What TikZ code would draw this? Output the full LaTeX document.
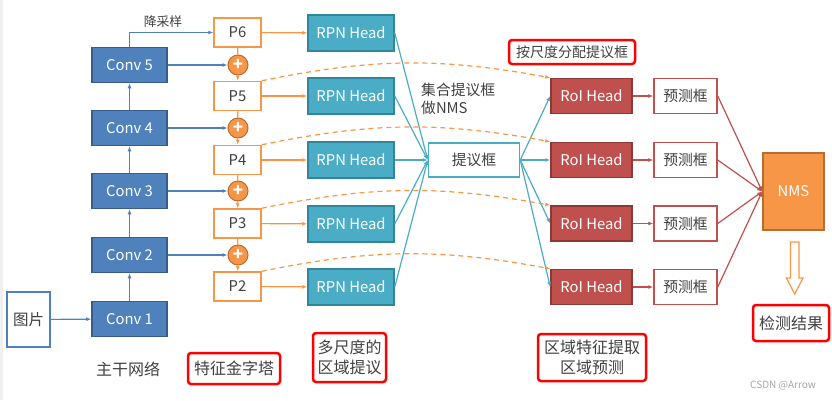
\documentclass[tikz,border=0pt]{standalone}
\usepackage{fontspec}
\setmainfont{Noto Sans CJK SC}
\usetikzlibrary{arrows.meta}
\definecolor{convblue}{HTML}{4F81BD}
\definecolor{convedge}{HTML}{385D8A}
\definecolor{pyrorange}{HTML}{F79646}
\definecolor{pyredge}{HTML}{B66D31}
\definecolor{rpnteal}{HTML}{4BACC6}
\definecolor{rpnedge}{HTML}{31859C}
\definecolor{roired}{HTML}{C0504D}
\definecolor{roiedge}{HTML}{8C3836}
\definecolor{labelgray}{HTML}{404040}

\begin{document}
\begin{tikzpicture}[x=1pt,y=-1pt,
  every node/.style={font=\fontsize{14.8}{17.5}\selectfont,inner sep=0pt},
  conv/.style={draw=convedge,fill=convblue,line width=1.5pt,text=white,
    minimum width=75pt,minimum height=35pt},
  pbox/.style={draw=pyrorange,fill=white,line width=1.5pt,text=labelgray,
    minimum width=47pt,minimum height=29pt},
  plus/.style={circle,draw=pyredge,fill=pyrorange,line width=1pt,text=white,
    minimum size=20pt,font=\fontsize{17}{17}\selectfont\bfseries},
  rpn/.style={draw=rpnedge,fill=rpnteal,line width=1.5pt,text=white,
    minimum width=86pt,minimum height=36pt},
  roi/.style={draw=roiedge,fill=roired,line width=1.5pt,text=white,
    minimum width=81pt,minimum height=35pt},
  pred/.style={draw=roired,fill=white,line width=1.5pt,text=labelgray,
    minimum width=63pt,minimum height=35pt},
  tag/.style={draw=red,line width=2.5pt,rounded corners=3pt,text=labelgray,
    align=center,font=\fontsize{16}{19.5}\selectfont},
  barr/.style={draw=convblue,line width=1.2pt,-{Latex[length=5pt,width=4pt]}},
  oarr/.style={draw=pyrorange,line width=1.2pt,-{Latex[length=5pt,width=4pt]}},
  tarr/.style={draw=rpnteal,line width=1.2pt,-{Latex[length=5pt,width=4pt]}},
  rarr/.style={draw=roired,line width=1.2pt,-{Latex[length=5pt,width=4pt]}},
  darc/.style={draw=pyrorange,line width=1.2pt,dashed,dash pattern=on 5pt off 4pt,
    -{Latex[length=5pt,width=4pt]},bend left=11}]
\useasboundingbox (0,0) rectangle (832,400);
\fill[gray!12] (0,0) rectangle (3,400);

% backbone
\node[draw=convblue,fill=white,line width=1.5pt,text=labelgray,
  minimum width=43pt,minimum height=55pt,font=\fontsize{15.5}{17}\selectfont]
  (img) at (28.5,319.5) {图片};
\node[conv] (c1) at (129.5,319) {Conv 1};
\node[conv] (c2) at (129.5,255) {Conv 2};
\node[conv] (c3) at (129.5,191) {Conv 3};
\node[conv] (c4) at (129.5,128) {Conv 4};
\node[conv] (c5) at (129.5,65) {Conv 5};
\draw[barr] (img) -- (c1);
\draw[barr] (c1) -- (c2);
\draw[barr] (c2) -- (c3);
\draw[barr] (c3) -- (c4);
\draw[barr] (c4) -- (c5);

% feature pyramid
\node[pbox] (p6) at (237.5,32.5) {P6};
\node[pbox] (p5) at (237.5,96) {P5};
\node[pbox] (p4) at (237.5,160) {P4};
\node[pbox] (p3) at (237.5,223.5) {P3};
\node[pbox] (p2) at (237.5,286.5) {P2};
\node[plus] (s5) at (238,65) {+};
\node[plus] (s4) at (238,128) {+};
\node[plus] (s3) at (238,191) {+};
\node[plus] (s2) at (238,255) {+};
\draw[barr] (c5.north) |- (p6.west)
  node[pos=0.7,above=4pt,text=labelgray,font=\fontsize{12.8}{14}\selectfont] {降采样};
\draw[barr] (c5) -- (s5);
\draw[barr] (c4) -- (s4);
\draw[barr] (c3) -- (s3);
\draw[barr] (c2) -- (s2);
\draw[draw=pyrorange,line width=1.2pt] (p6) -- (s5);
\draw[draw=pyrorange,line width=1.2pt] (p5) -- (s4);
\draw[draw=pyrorange,line width=1.2pt] (p4) -- (s3);
\draw[draw=pyrorange,line width=1.2pt] (p3) -- (s2);
\draw[oarr] (s5) -- (p5);
\draw[oarr] (s4) -- (p4);
\draw[oarr] (s3) -- (p3);
\draw[oarr] (s2) -- (p2);

% rpn heads
\node[rpn] (r6) at (351,33) {RPN Head};
\node[rpn] (r5) at (351,96) {RPN Head};
\node[rpn] (r4) at (351,160) {RPN Head};
\node[rpn] (r3) at (351,224) {RPN Head};
\node[rpn] (r2) at (351,287) {RPN Head};
\draw[oarr] (p6) -- (r6);
\draw[oarr] (p5) -- (r5);
\draw[oarr] (p4) -- (r4);
\draw[oarr] (p3) -- (r3);
\draw[oarr] (p2) -- (r2);

\node[draw=rpnteal,fill=white,line width=1.5pt,text=labelgray,
  minimum width=91pt,minimum height=34pt] (prop) at (474,160) {提议框};
\draw[tarr] (r6.east) -- (prop.west);
\draw[tarr] (r5.east) -- (prop.west);
\draw[tarr] (r4.east) -- (prop.west);
\draw[tarr] (r3.east) -- (prop.west);
\draw[tarr] (r2.east) -- (prop.west);
\node[anchor=west,align=left,text=labelgray] (nmsnote) at (421,99) {集合提议框\\做NMS};

% roi heads
\node[roi] (o5) at (591.5,96) {RoI Head};
\node[roi] (o4) at (591.5,160) {RoI Head};
\node[roi] (o3) at (591.5,223.5) {RoI Head};
\node[roi] (o2) at (591.5,287) {RoI Head};
\draw[tarr] (prop.east) -- (o5.west);
\draw[tarr] (prop.east) -- (o4.west);
\draw[tarr] (prop.east) -- (o3.west);
\draw[tarr] (prop.east) -- (o2.west);
\draw[darc] (p5.north east) to (o5.north west);
\draw[darc] (p4.north east) to (o4.north west);
\draw[darc] (p3.north east) to (o3.north west);
\draw[darc] (p2.north east) to (o2.north west);

\node[pred] (b5) at (685.5,96) {预测框};
\node[pred] (b4) at (685.5,160) {预测框};
\node[pred] (b3) at (685.5,223.5) {预测框};
\node[pred] (b2) at (685.5,287) {预测框};
\draw[rarr] (o5) -- (b5);
\draw[rarr] (o4) -- (b4);
\draw[rarr] (o3) -- (b3);
\draw[rarr] (o2) -- (b2);

\node[draw=pyredge,fill=pyrorange,line width=1.5pt,text=white,
  minimum width=61pt,minimum height=77pt] (nms) at (793.5,191.5) {NMS};
\draw[rarr] (b5.east) -- (nms.west);
\draw[rarr] (b4.east) -- (nms.west);
\draw[rarr] (b3.east) -- (nms.west);
\draw[rarr] (b2.east) -- (nms.west);
\draw[draw=pyrorange,fill=white,line width=1.2pt]
  (790.5,242) -- (799,242) -- (799,278) -- (803,278) -- (794.7,294)
  -- (786.4,278) -- (790.5,278) -- cycle;

% captions
\node[tag,minimum width=76pt,minimum height=36pt] (result) at (791,323) {检测结果};
\node[text=labelgray,font=\fontsize{16}{19.5}\selectfont] (backbone) at (128,369) {主干网络};
\node[tag,minimum width=92pt,minimum height=31pt] (fpn) at (234,368.5) {特征金字塔};
\node[tag,minimum width=73pt,minimum height=49pt] (msrp) at (349.5,357.5) {多尺度的\\区域提议};
\node[tag,minimum width=108pt,minimum height=47pt] (roipred) at (592,357.5) {区域特征提取\\区域预测};
\node[tag,minimum width=126pt,minimum height=24pt,font=\fontsize{14}{17}\selectfont]
  (assign) at (572,52) {按尺度分配提议框};
\node[text=gray!70,font=\fontsize{10}{12}\selectfont] (mark) at (783,386) {CSDN @Arrow};
\end{tikzpicture}
\end{document}
